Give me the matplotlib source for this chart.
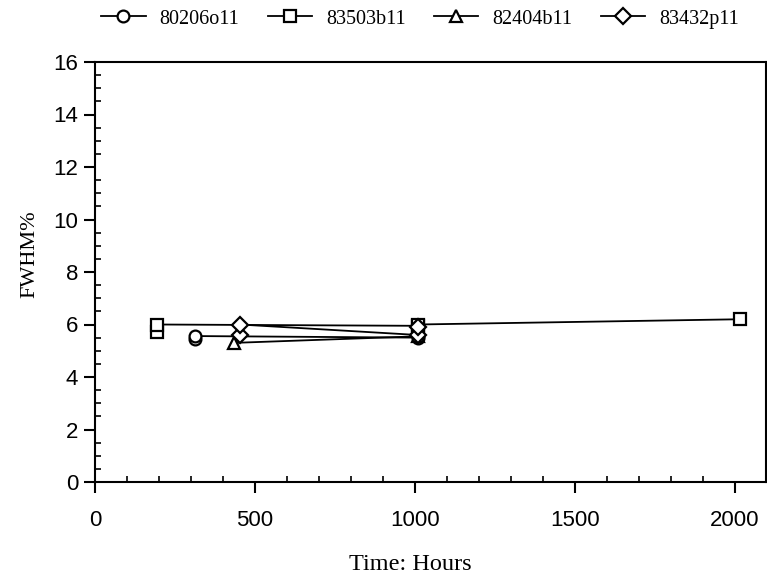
import matplotlib
matplotlib.use("Agg")
import matplotlib.pyplot as plt
from matplotlib.ticker import MultipleLocator

# Data
series_names = ["80206o11", "83503b11", "82404b11", "83432p11"]
x_circle = [312, 312, 1009, 1009]
y_circle = [5.45, 5.56, 5.5, 5.55]
x_square = [194, 194, 1009, 1009, 2016]
y_square = [5.7, 6.0, 5.95, 6.0, 6.2]
x_triangle = [434, 1009]
y_triangle = [5.3, 5.55]
x_diamond = [453, 453, 1009, 1009]
y_diamond = [5.6, 6.0, 5.6, 5.9]
x_ticks = [0, 500, 1000, 1500, 2000]
y_ticks = [0, 2, 4, 6, 8, 10, 12, 14, 16]

fig = plt.figure(figsize=(7.67, 5.84), dpi=100)
ax = fig.add_axes([95/767, 1-482/584, (766-95)/767, (482-62)/584])

serif = "Liberation Serif"
sans = "Liberation Sans"

styles = [("o", x_circle, y_circle), ("s", x_square, y_square),
          ("^", x_triangle, y_triangle), ("D", x_diamond, y_diamond)]
sizes = {"o": 8.5, "s": 8.5, "^": 9, "D": 8}
handles = []
for (m, xs, ys), name in zip(styles, series_names):
    h, = ax.plot(xs, ys, color="black", lw=1.3, marker=m, markersize=sizes[m],
                 markerfacecolor="white", markeredgecolor="black",
                 markeredgewidth=1.6, label=name, clip_on=False)
    handles.append(h)

ax.set_xlim(0, 2097)
ax.set_ylim(0, 16)
ax.set_xticks(x_ticks)
ax.set_yticks(y_ticks)
ax.xaxis.set_minor_locator(MultipleLocator(100))
ax.yaxis.set_minor_locator(MultipleLocator(0.5))
ax.tick_params(which="major", direction="out", length=8, width=1.5,
               top=False, right=False, labelsize=16)
ax.tick_params(axis="x", which="major", pad=12)
ax.tick_params(axis="y", which="major", pad=4)
ax.tick_params(which="minor", direction="in", length=4, width=1.2,
               top=False, right=False)
for lab in ax.get_xticklabels() + ax.get_yticklabels():
    lab.set_fontfamily(sans)
for s in ax.spines.values():
    s.set_linewidth(1.5)

fig.text(410/767, 1-565/584, "Time: Hours", family=serif, fontsize=17.5,
         ha="center", va="center")
fig.text(30/767, 1-254/584, "FWHM%", family=serif, fontsize=16,
         ha="center", va="center", rotation=90)

fig.legend(handles=handles, loc="center", bbox_to_anchor=(420/767, 1-19/584),
           ncol=4, frameon=False, prop={"family": serif, "size": 14.5},
           handlelength=2.2, handletextpad=0.7, columnspacing=1.4,
           borderpad=0, borderaxespad=0)

fig.savefig("out.png", dpi=100)
